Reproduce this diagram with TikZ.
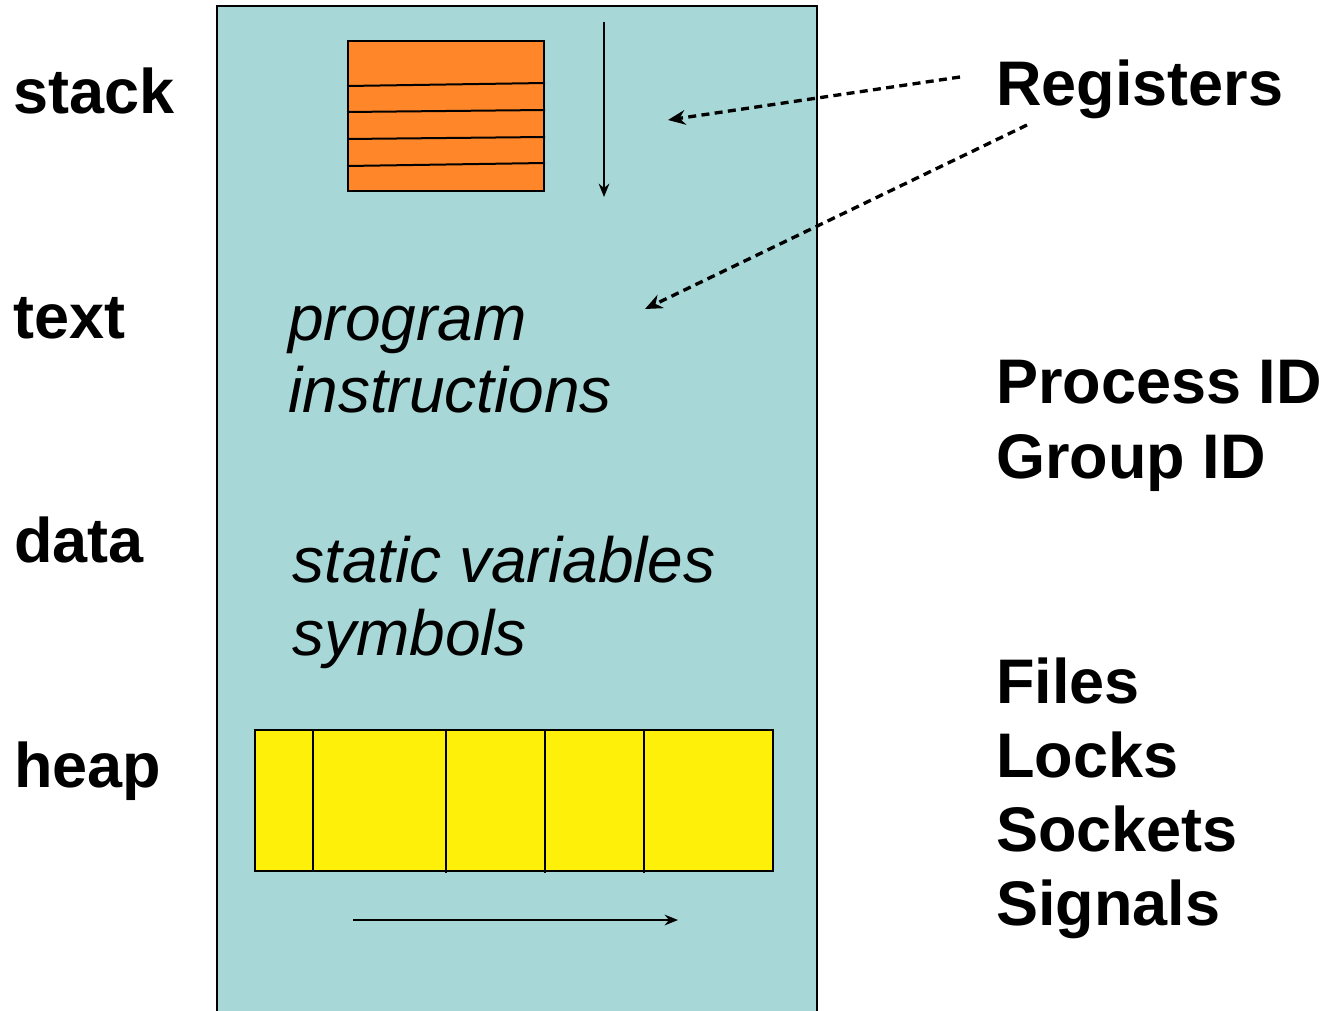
\documentclass[tikz,border=0pt]{standalone}
\usepackage{fontspec}
\setmainfont{Liberation Sans}
\usetikzlibrary{arrows.meta}
\definecolor{proc}{HTML}{A8D7D7}
\definecolor{stk}{HTML}{FF872A}
\definecolor{hp}{HTML}{FFF00A}
\begin{document}
\begin{tikzpicture}[x=0.75pt,y=-0.75pt,
  lbl/.style={anchor=base west,inner sep=0pt,font=\fontsize{47.25}{55}\selectfont\bfseries},
  itl/.style={anchor=base west,inner sep=0pt,font=\fontsize{48}{55}\selectfont\itshape},
  box/.style={draw=black,line width=1.5pt},
  growarrow/.style={line width=1.5pt,-{Stealth[length=10pt,width=8pt]}},
  ptr/.style={line width=2.5pt,dash pattern=on 6pt off 4pt,-{Stealth[length=13pt,width=11pt]}}]
\useasboundingbox (0,0) rectangle (1326,1010);
\fill[white] (0,0) rectangle (1326,1010);
% process box
\path[fill=proc,draw=black,line width=1.5pt] (217,1012) -- (217,6) -- (817,6) -- (817,1012);
% stack
\node[box,fill=stk,minimum width=196*0.75pt,minimum height=150*0.75pt,inner sep=0pt,anchor=north west] (stk) at (347,40) {};
\draw[line width=1.5pt] (347,86) -- (545,83);
\draw[line width=1.5pt] (347,112) -- (545,110);
\draw[line width=1.5pt] (347,139) -- (545,137);
\draw[line width=1.5pt] (347,166) -- (545,163);
\coordinate (sdA) at (604,22);
\coordinate (sdB) at (604,197);
\draw[growarrow] (sdA) -- (sdB);
% heap
\node[box,fill=hp,minimum width=518*0.75pt,minimum height=141*0.75pt,inner sep=0pt,anchor=north west] (hp) at (254,729) {};
\draw[line width=1.5pt] (313,729) -- (313,870);
\draw[line width=1.5pt] (446,731) -- (446,873);
\draw[line width=1.5pt] (545,731) -- (545,873);
\draw[line width=1.5pt] (644,731) -- (644,873);
\coordinate (hgA) at (353,920);
\coordinate (hgB) at (678,920);
\draw[growarrow] (hgA) -- (hgB);
% left labels
\node[lbl] (lstack) at (13,113) {stack};
\node[lbl] (ltext) at (13,338) {text};
\node[lbl] (ldata) at (14,562) {data};
\node[lbl] (lheap) at (14,787) {heap};
% inside texts
\node[itl] (prog) at (288,340) {program};
\node[itl] (instr) at (288,412) {instructions};
\node[itl] (stat) at (292,582) {static variables};
\node[itl] (symb) at (292,655) {symbols};
% right labels
\node[lbl] (reg) at (996,105) {Registers};
\node[lbl] (pid) at (996,403) {Process ID};
\node[lbl] (gid) at (996,478) {Group ID};
\node[lbl] (files) at (996,703) {Files};
\node[lbl] (locks) at (996,777) {Locks};
\node[lbl] (sock) at (996,851) {Sockets};
\node[lbl] (sig) at (996,925) {Signals};
% register arrows
\coordinate (r1s) at (960,77);
\coordinate (r1e) at (668,120);
\coordinate (r2s) at (1027,125);
\coordinate (r2e) at (645,309);
\draw[ptr] (r1s) -- (r1e);
\draw[ptr] (r2s) -- (r2e);
\end{tikzpicture}
\end{document}
